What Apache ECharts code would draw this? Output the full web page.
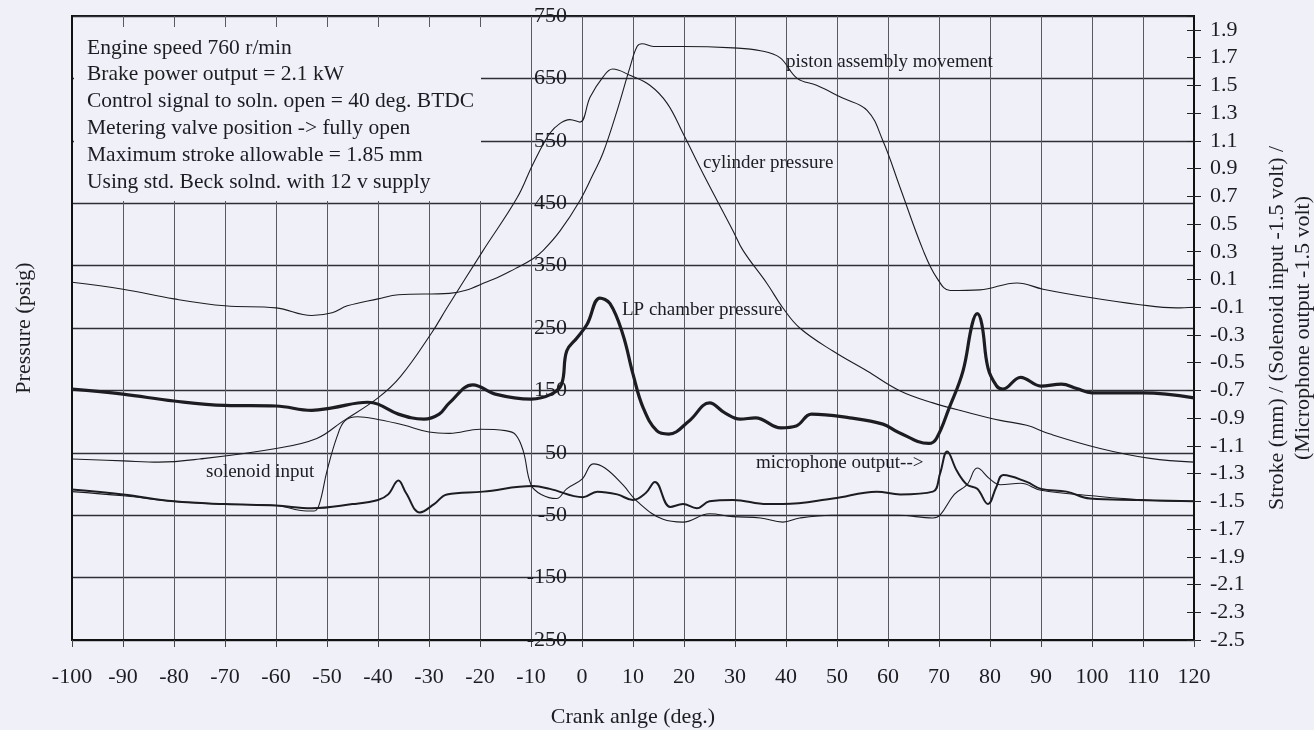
<!DOCTYPE html>
<html>
<head>
<meta charset="utf-8">
<title>Injector test traces</title>
<script src="https://cdn.jsdelivr.net/npm/echarts@6/dist/echarts.min.js"></script>
<style>
    html, body { margin: 0; padding: 0; background: #f0f1f8; }
    #main { width: 1314px; height: 730px; }
</style>
</head>
<body>
<div id="main"></div>
<script>
// values, crank angle in degrees

// cylinder pressure, psig (left axis)
const cylAngle = [-100, -90, -83, -75, -60, -52, -47, -40, -35.6, -29.5, -26.5, -19.4, -12.7, -9.6, -6.3, -4.3, -2.4, -0.4, 1.6, 4.1, 6, 9.4, 13.3, 16.7, 19.8, 23.7, 29.6, 31.6, 36.3, 39.4, 42.7, 49.2, 55.9, 62.4, 68.8, 75.5, 82, 87.2, 91.8, 101.6, 111.4, 120];
const cylPressure = [40, 37, 35, 40, 57, 73, 100, 138, 172, 242, 282, 374, 459, 513, 562, 578, 584, 580, 620, 652, 665, 655, 639, 610, 562, 498, 406, 374, 321, 282, 250, 213, 181, 149, 130, 115, 102, 94, 80, 57, 41, 35];

// LP chamber pressure, psig (left axis)
const lpAngle = [-100, -90, -80, -70, -60, -53, -49, -42, -40, -36, -31, -28, -26, -21.4, -17, -10, -6, -4, -3, -1, 1, 3.5, 5.5, 8, 10, 12, 14.7, 17, 21, 25, 28, 31, 34, 39, 42, 45, 52.5, 59, 62, 68, 69.5, 72, 74.7, 76.5, 77.5, 78.4, 79.6, 81.3, 82.5, 86, 90, 94, 97, 100, 110, 120];
const lpPressure = [152, 144, 133, 126, 125, 118, 122, 131, 128, 112, 104, 112, 130, 159, 144, 136, 144, 160, 213, 234, 256, 298, 289, 240, 176, 122, 85, 80, 101, 130, 114, 104, 106, 90, 93, 112, 106, 96, 83, 65, 73, 122, 181, 256, 273, 256, 186, 157, 152, 171, 157, 160, 153, 146, 146, 138];

// piston assembly movement, mm (right axis)
const pistonAngle = [-100, -90, -80, -70, -60, -53, -49, -46, -40, -36, -26, -17.5, -13, -9.6, -7.6, -4.3, -0.4, 2.2, 4.1, 6.9, 9.4, 10.8, 11.8, 14, 19.8, 29.6, 35, 38.8, 42.2, 46, 51, 55.9, 59, 62.4, 66.9, 69.6, 72.2, 78, 85.3, 90.4, 99.6, 109, 116.5, 120];
const pistonStroke = [0.08, 0.03, -0.04, -0.09, -0.105, -0.16, -0.14, -0.09, -0.04, -0.01, 0.0, 0.10, 0.18, 0.25, 0.31, 0.45, 0.67, 0.86, 1.01, 1.32, 1.63, 1.78, 1.80, 1.78, 1.78, 1.77, 1.75, 1.70, 1.55, 1.50, 1.41, 1.32, 1.10, 0.76, 0.31, 0.11, 0.02, 0.025, 0.075, 0.03, -0.03, -0.08, -0.105, -0.10];

// solenoid input - 1.5 V (right axis)
const solAngle = [-100, -90, -80, -70, -60, -54, -52.5, -51.5, -50, -48, -46.5, -44, -40, -35, -30, -26, -20, -15, -13, -11.5, -10, -8, -5, -3, 0, 2.2, 4.5, 8, 10.8, 15.9, 19.8, 25, 29.6, 35, 39.4, 42.7, 49, 62, 68.8, 70.2, 73, 75.5, 77.5, 80, 82, 86, 90, 100, 110, 120];
const solVolt = [-1.43, -1.46, -1.50, -1.52, -1.53, -1.57, -1.57, -1.52, -1.28, -1.03, -0.92, -0.89, -0.91, -0.95, -1.0, -1.01, -0.98, -0.99, -1.02, -1.14, -1.38, -1.45, -1.48, -1.41, -1.34, -1.23, -1.26, -1.38, -1.50, -1.63, -1.65, -1.59, -1.61, -1.62, -1.65, -1.62, -1.60, -1.60, -1.62, -1.60, -1.45, -1.38, -1.26, -1.34, -1.38, -1.37, -1.42, -1.46, -1.49, -1.50];

// microphone output - 1.5 V (right axis)
const micAngle = [-100, -90, -80, -70, -60, -53, -45, -40, -38, -36, -34.5, -31.8, -29, -26.5, -19.4, -9.6, -6.3, 0.2, 3, 6.9, 10, 12.5, 14.3, 17.3, 19.8, 22.5, 25, 29.6, 36.3, 39.4, 49.2, 57.8, 62.4, 68.8, 70.2, 71.6, 73.5, 75.5, 77.5, 79.6, 81.2, 82.6, 87.2, 90, 95, 99.6, 109, 120];
const micVolt = [-1.415, -1.45, -1.50, -1.52, -1.53, -1.55, -1.52, -1.49, -1.45, -1.35, -1.44, -1.58, -1.52, -1.45, -1.43, -1.39, -1.41, -1.47, -1.43, -1.45, -1.49, -1.44, -1.36, -1.54, -1.52, -1.55, -1.50, -1.49, -1.52, -1.52, -1.48, -1.43, -1.45, -1.43, -1.30, -1.14, -1.28, -1.38, -1.41, -1.52, -1.40, -1.31, -1.36, -1.41, -1.43, -1.48, -1.49, -1.50];

// right axis tick labels
const rightTicks = [-2.5, -2.3, -2.1, -1.9, -1.7, -1.5, -1.3, -1.1, -0.9, -0.7, -0.5, -0.3, -0.1, 0.1, 0.3, 0.5, 0.7, 0.9, 1.1, 1.3, 1.5, 1.7, 1.9];

const notes = [
    'Engine speed 760 r/min',
    'Brake power output = 2.1 kW',
    'Control signal to soln. open = 40 deg. BTDC',
    'Metering valve position -> fully open',
    'Maximum stroke allowable = 1.85 mm',
    'Using std. Beck solnd. with 12 v supply'
];

function pairs(xs, ys) {
    return xs.map(function (x, i) { return [x, ys[i]]; });
}

window.addEventListener('load', function () {
    let chart = echarts.init(document.getElementById('main'));
    const ink = '#1c1c22';
    const paper = '#f0f1f8';
    const serif = '"Liberation Serif", "DejaVu Serif", serif';

    function trace(name, xs, ys, axis, width) {
        return {
            name: name,
            type: 'line',
            yAxisIndex: axis,
            data: pairs(xs, ys),
            showSymbol: false,
            smooth: 0.4,
            lineStyle: { color: ink, width: width },
            z: 3
        };
    }

    // text box in the upper left, plus the curve captions
    let graphics = [{
        type: 'rect',
        x: 74, y: 27,
        shape: { width: 407, height: 174 },
        style: { fill: paper },
        z: 1
    }];
    notes.forEach(function (t, i) {
        graphics.push({
            type: 'text', x: 87, y: 48 + i * 26.8, z: 4,
            style: { text: t, font: '21.5px ' + serif, fill: ink, verticalAlign: 'middle' }
        });
    });
    [['piston assembly movement', 786, 62],
     ['cylinder pressure', 703, 163],
     ['LP chamber pressure', 622, 310],
     ['solenoid input', 206, 472],
     ['microphone output-->', 756, 463]].forEach(function (c) {
        graphics.push({
            type: 'text', x: c[1], y: c[2], z: 4,
            style: { text: c[0], font: '19px ' + serif, fill: ink, verticalAlign: 'middle' }
        });
    });

    let option = {
        backgroundColor: paper,
        animation: false,
        textStyle: { fontFamily: serif, color: ink },
        grid: {
            left: 72, right: 120, top: 16, bottom: 90,
            outerBoundsMode: 'none',
            show: true, borderColor: '#111', borderWidth: 2, backgroundColor: 'transparent'
        },
        xAxis: {
            type: 'value', min: -100, max: 120, interval: 10,
            name: 'Crank anlge (deg.)', nameLocation: 'middle', nameGap: 66,
            nameTextStyle: { fontSize: 22, fontFamily: serif, color: ink },
            axisLine: { onZero: false, lineStyle: { color: '#111', width: 2 } },
            axisTick: { length: 7, lineStyle: { color: '#444' } },
            axisLabel: { fontSize: 22, margin: 26, fontFamily: serif, color: ink },
            splitLine: { lineStyle: { color: '#5a5a62', width: 1 } }
        },
        yAxis: [{
            // pressure, frame edge: name and horizontal grid
            type: 'value', min: -250, max: 750, interval: 100, position: 'left',
            name: 'Pressure (psig)', nameLocation: 'middle', nameGap: 37,
            nameTextStyle: { fontSize: 22, fontFamily: serif, color: ink },
            axisLine: { onZero: false, lineStyle: { color: '#111', width: 2 } },
            axisTick: { show: false },
            axisLabel: { show: false },
            splitLine: { lineStyle: { color: '#2e2e36', width: 1.4 } }
        }, {
            type: 'value', min: -2.5, max: 2.0, interval: 0.2, position: 'right',
            name: 'Stroke (mm) / (Solenoid input -1.5 volt) /\n(Microphone output -1.5 volt)',
            nameLocation: 'middle', nameGap: 70, nameRotate: 90,
            nameTextStyle: { fontSize: 22, lineHeight: 26, fontFamily: serif, color: ink },
            axisLine: { onZero: false, lineStyle: { color: '#111', width: 2 } },
            axisTick: { length: 7, lineStyle: { color: '#222' } },
            axisLabel: {
                fontSize: 22, margin: 16, fontFamily: serif, color: ink,
                showMaxLabel: false,
                formatter: function (v) {
                    let hit = rightTicks.find(function (t) { return Math.abs(t - v) < 1e-6; });
                    return hit === undefined ? '' : hit.toFixed(1);
                }
            },
            splitLine: { show: false }
        }, {
            // pressure tick labels drawn along TDC
            type: 'value', min: -250, max: 750, interval: 100, position: 'left', offset: -510,
            axisLine: { show: false, onZero: false },
            axisTick: { show: false },
            axisLabel: { fontSize: 22, margin: 15, fontFamily: serif, color: ink },
            splitLine: { show: false }
        }, {
            // inner half of the right-hand cross ticks
            type: 'value', min: -2.5, max: 2.0, interval: 0.2, position: 'right',
            axisLine: { show: false, onZero: false },
            axisTick: { inside: true, length: 7, lineStyle: { color: '#222' } },
            axisLabel: { show: false },
            splitLine: { show: false }
        }],
        graphic: graphics,
        series: [
            trace('cylinder pressure', cylAngle, cylPressure, 0, 1.1),
            trace('LP chamber pressure', lpAngle, lpPressure, 0, 3.2),
            trace('piston assembly movement', pistonAngle, pistonStroke, 1, 1.1),
            trace('solenoid input', solAngle, solVolt, 1, 1.1),
            trace('microphone output', micAngle, micVolt, 1, 2.0)
        ]
    };

    chart.setOption(option);
}, false);
</script>
</body>
</html>
